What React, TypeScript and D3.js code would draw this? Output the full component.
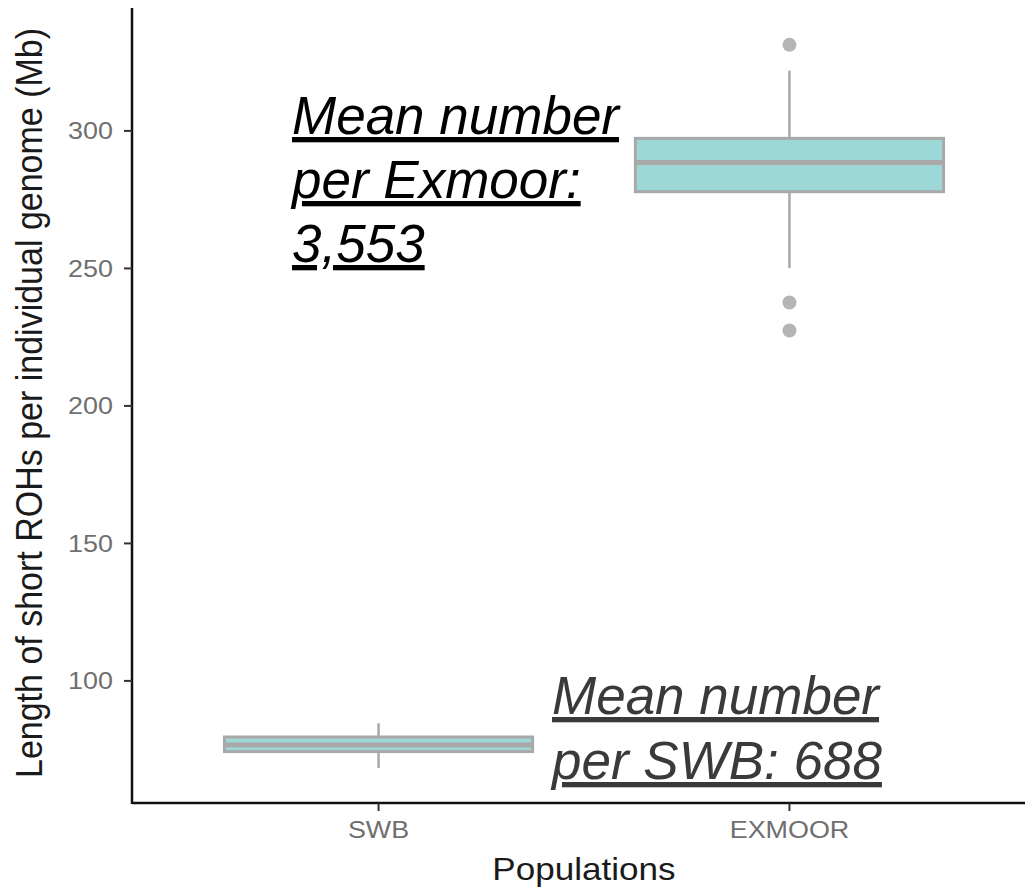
import React from "react";
import * as d3 from "d3";

const categories = ["SWB", "EXMOOR"];
const q1Values = [74.3, 277.9];
const medianValues = [76.7, 288.5];
const q3Values = [79.6, 297.3];
const whiskerLow = [68.3, 250.1];
const whiskerHigh = [84.6, 321.9];
const outlierValues = [[], [331.3, 237.6, 227.4]];
const yTicks = [100, 150, 200, 250, 300];

const exmoorNote = ["Mean number", "per Exmoor:", "3,553"];
const swbNote = ["Mean number", "per SWB: 688"];

const W = 1025;
const H = 891;
const FONT = "'Liberation Sans', Arial, Helvetica, sans-serif";

export default function App() {
  const y = d3.scaleLinear().domain([55.6, 344.7]).range([803, 8]);
  const x = d3.scaleLinear().domain([0.4, 2.6]).range([132, 1036]);
  const boxHalf = 0.375;
  const fill = "#9dd8d7";
  const gray = "#a9a9a9";
  const sx = 1.17;

  return (
    <svg
      width={W}
      height={H}
      style={{ position: "absolute", left: 0, top: 0, background: "#fff" }}
    >
      {/* boxes */}
      {categories.map((c, i) => {
        const cx = x(i + 1);
        const x0 = x(i + 1 - boxHalf);
        const x1 = x(i + 1 + boxHalf);
        return (
          <g key={c}>
            <line x1={cx} x2={cx} y1={y(whiskerHigh[i])} y2={y(q3Values[i])} stroke={gray} strokeWidth={2.5} />
            <line x1={cx} x2={cx} y1={y(q1Values[i])} y2={y(whiskerLow[i])} stroke={gray} strokeWidth={2.5} />
            <rect
              x={x0}
              y={y(q3Values[i])}
              width={x1 - x0}
              height={y(q1Values[i]) - y(q3Values[i])}
              fill={fill}
              stroke={gray}
              strokeWidth={3}
            />
            <line x1={x0} x2={x1} y1={y(medianValues[i])} y2={y(medianValues[i])} stroke={gray} strokeWidth={5} />
            {outlierValues[i].map((v, k) => (
              <circle key={k} cx={cx} cy={y(v)} r={7} fill="#b5b5b5" />
            ))}
          </g>
        );
      })}

      {/* axes */}
      <line x1={x(0.4)} x2={W + 20} y1={803} y2={803} stroke="#111" strokeWidth={2.5} />
      <line x1={x(0.4)} x2={x(0.4)} y1={8} y2={804} stroke="#111" strokeWidth={2.5} />

      {yTicks.map((t) => (
        <g key={t}>
          <line x1={x(0.4) - 8} x2={x(0.4)} y1={y(t)} y2={y(t)} stroke="#333" strokeWidth={2} />
          <text
            transform={`translate(${x(0.4) - 19},${y(t) + 8.5}) scale(${sx},1)`}
            textAnchor="end"
            fontFamily={FONT}
            fontSize={23}
            fill="#6f6f6f"
          >
            {t}
          </text>
        </g>
      ))}

      {categories.map((c, i) => (
        <g key={c}>
          <line x1={x(i + 1)} x2={x(i + 1)} y1={803} y2={811} stroke="#333" strokeWidth={2} />
          <text
            transform={`translate(${x(i + 1)},${838}) scale(${sx},1)`}
            textAnchor="middle"
            fontFamily={FONT}
            fontSize={23}
            fill="#6f6f6f"
          >
            {c}
          </text>
        </g>
      ))}

      <text
        transform={`translate(${(x(0.4) + x(2.6)) / 2},${880}) scale(1.15,1)`}
        textAnchor="middle"
        fontFamily={FONT}
        fontSize={30.5}
        fill="#1a1a1a"
      >
        Populations
      </text>

      <text
        transform={`translate(42,403) rotate(-90) scale(1,1.17)`}
        textAnchor="middle"
        fontFamily={FONT}
        fontSize={31}
        fill="#1a1a1a"
        textLength={750}
        lengthAdjust="spacingAndGlyphs"
      >
        Length of short ROHs per individual genome (Mb)
      </text>

      {/* annotations */}
      {exmoorNote.map((s, k) => (
        <text
          key={k}
          x={292}
          y={134 + k * 64}
          fontFamily={FONT}
          fontSize={53}
          fontStyle="italic"
          textDecoration="underline"
          fill="#000"
        >
          {s}
        </text>
      ))}
      {swbNote.map((s, k) => (
        <text
          key={k}
          x={552}
          y={714 + k * 65}
          fontFamily={FONT}
          fontSize={53}
          fontStyle="italic"
          textDecoration="underline"
          fill="#3a3a3a"
        >
          {s}
        </text>
      ))}
    </svg>
  );
}
